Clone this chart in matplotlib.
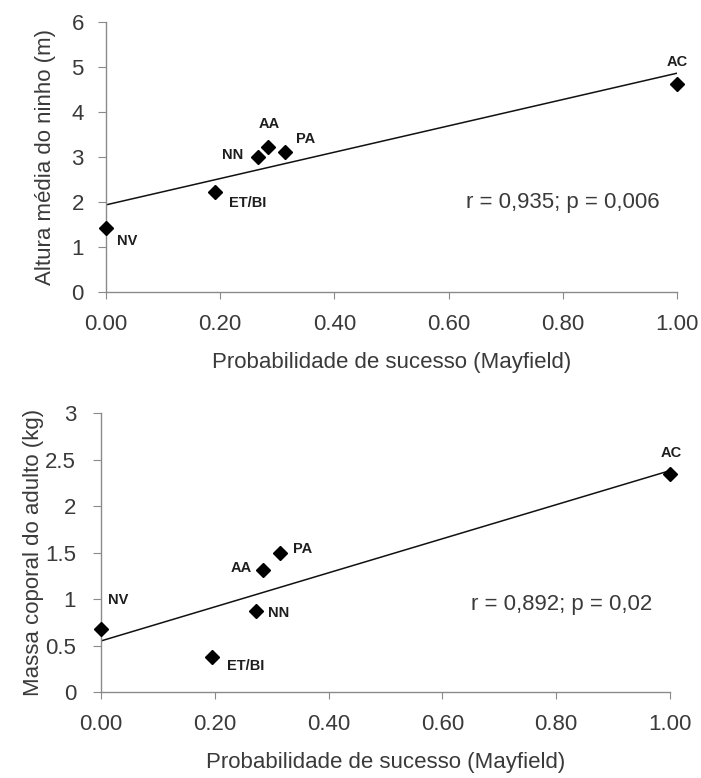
import numpy as np
import matplotlib
matplotlib.use("Agg")
import matplotlib.pyplot as plt
from matplotlib.ticker import FormatStrFormatter

plt.rcParams['font.family'] = ['Liberation Sans', 'DejaVu Sans']

TEXT_COLOR = "#3a3a3a"
SPINE_COLOR = "#8a8a8a"
FONT_SIZE = 16

# species codes, shared by both panels
species = ["NV", "ET/BI", "NN", "AA", "PA", "AC"]

# nest success probability (Mayfield) per species
success_top = [0.0, 0.191, 0.267, 0.283, 0.314, 1.0]
success_bottom = [0.0, 0.195, 0.272, 0.285, 0.315, 1.0]

# mean nest height (m)
nest_height = [1.42, 2.23, 3.01, 3.23, 3.12, 4.62]

# adult body mass (kg)
body_mass = [0.68, 0.38, 0.87, 1.31, 1.50, 2.35]

# label offsets in points (dx, dy, ha) for each species
offsets_top = [(8, -9, 'left'), (10, -8, 'left'), (-11, 1, 'right'),
               (1, 16, 'center'), (8, 9, 'left'), (0, 16, 'center')]
offsets_bottom = [(5, 21, 'left'), (11, -7, 'left'), (9, -1, 'left'),
                  (-8, 2, 'right'), (9, 3, 'left'), (1, 15, 'center')]


def drawPanel(ax, x, y, offsets, ylim, yticks, ylabel, stats, stats_pos,
              ytickpad, ylabelpad):
    x = np.asarray(x)
    y = np.asarray(y)

    slope, intercept = np.polyfit(x, y, 1)
    xs = np.array([0.0, 1.0])
    ax.plot(xs, intercept + slope * xs, color="#111111", lw=1.1, zorder=2)

    ax.plot(x, y, 'D', color="black", ms=6.8, zorder=3, clip_on=False)

    for name, xi, yi, (dx, dy, ha) in zip(species, x, y, offsets):
        ax.annotate(name, (xi, yi), xytext=(dx, dy), textcoords='offset points',
                    ha=ha, va='center', fontsize=10.5, fontweight='bold',
                    color="#1e1e1e")

    ax.text(stats_pos[0], stats_pos[1], stats, ha='center', va='center',
            fontsize=FONT_SIZE, color=TEXT_COLOR)

    ax.set_xlim(0, 1.0)
    ax.set_ylim(*ylim)
    ax.set_xticks([0, 0.2, 0.4, 0.6, 0.8, 1.0])
    ax.set_yticks(yticks)
    ax.xaxis.set_major_formatter(FormatStrFormatter('%.2f'))
    ax.yaxis.set_major_formatter(FormatStrFormatter('%g'))

    for side in ['top', 'right']:
        ax.spines[side].set_visible(False)
    for side in ['left', 'bottom']:
        ax.spines[side].set_color(SPINE_COLOR)
        ax.spines[side].set_linewidth(1.0)

    ax.tick_params(axis='x', direction='out', length=5, pad=11,
                   color=SPINE_COLOR, labelsize=FONT_SIZE, labelcolor=TEXT_COLOR)
    ax.tick_params(axis='y', direction='out', length=6, pad=ytickpad,
                   color=SPINE_COLOR, labelsize=FONT_SIZE, labelcolor=TEXT_COLOR)

    ax.set_xlabel('Probabilidade de sucesso (Mayfield)', fontsize=FONT_SIZE,
                  color=TEXT_COLOR, labelpad=12)
    ax.set_ylabel(ylabel, fontsize=FONT_SIZE, color=TEXT_COLOR, labelpad=ylabelpad)


fig = plt.figure(figsize=(7.01, 7.78), dpi=100)

ax1 = fig.add_axes([0.1512, 0.6247, 0.8146, 0.347])
drawPanel(ax1, success_top, nest_height, offsets_top, (0, 6),
          [0, 1, 2, 3, 4, 5, 6], 'Altura média do ninho (m)',
          'r = 0,935; p = 0,006', (0.80, 1.98), 10, 11)

ax2 = fig.add_axes([0.1441, 0.1105, 0.8117, 0.3582])
drawPanel(ax2, success_bottom, body_mass, offsets_bottom, (0, 3),
          [0, 0.5, 1, 1.5, 2, 2.5, 3], 'Massa coporal do adulto (kg)',
          'r = 0,892; p = 0,02', (0.81, 0.94), 12, 1)

fig.savefig('out.png', dpi=100)
